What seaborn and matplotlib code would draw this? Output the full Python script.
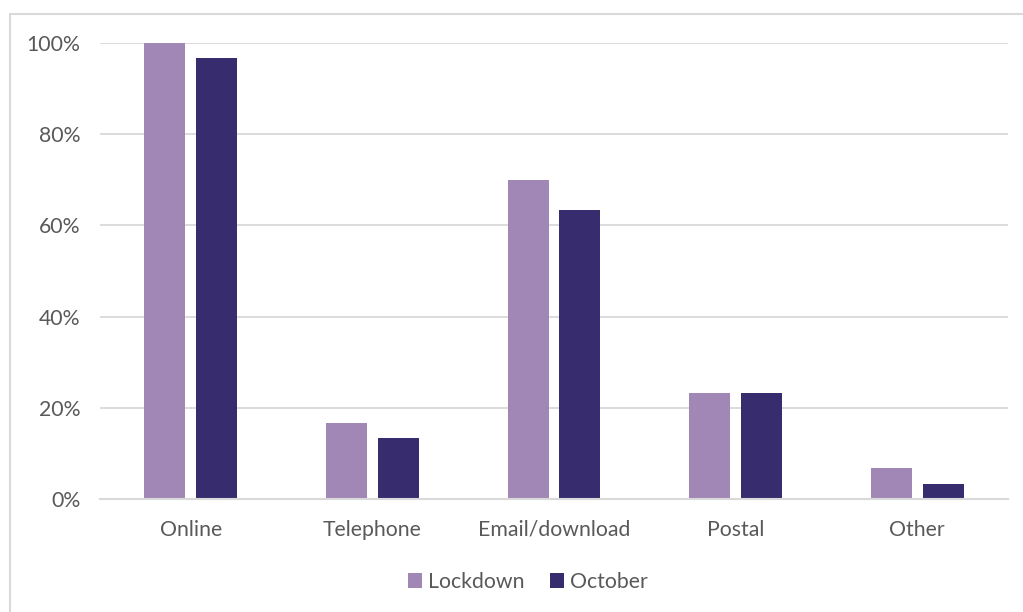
import matplotlib
matplotlib.use("Agg")
import matplotlib.pyplot as plt
import seaborn as sns
import pandas as pd
from matplotlib.patches import Rectangle
from matplotlib.ticker import FuncFormatter

categories = ["Online", "Telephone", "Email/download", "Postal", "Other"]
lockdown = [100.0, 16.7, 70.0, 23.3, 6.7]
october = [96.7, 13.3, 63.3, 23.3, 3.3]
series = ["Lockdown", "October"]
yticks = [0, 20, 40, 60, 80, 100]

df = pd.DataFrame({
    "category": categories * 2,
    "value": lockdown + october,
    "series": [series[0]] * len(categories) + [series[1]] * len(categories),
})

sns.set_theme(style="white")
plt.rcParams["font.family"] = ["Lato", "DejaVu Sans"]

fig = plt.figure(figsize=(10.23, 6.12), dpi=100)
ax = fig.add_axes([100 / 1023, (612 - 499) / 612, 908 / 1023, 456 / 612])

colors = {"Lockdown": "#A087B5", "October": "#372D6E"}
sns.barplot(data=df, x="category", y="value", hue="series", order=categories,
            hue_order=series, palette=colors, width=0.572, gap=0.21,
            ax=ax, legend=True, saturation=1, linewidth=0)

ax.set_ylim(0, 100)
ax.set_xlim(-0.5, len(categories) - 0.5)
ax.set_yticks(yticks)
ax.yaxis.set_major_formatter(FuncFormatter(lambda v, p: f"{int(v)}%"))
ax.set_xlabel("")
ax.set_ylabel("")
ax.grid(axis="y", color="#D9D9D9", linewidth=1.3)
ax.set_axisbelow(True)
for s in ["top", "right", "left"]:
    ax.spines[s].set_visible(False)
ax.spines["bottom"].set_color("#D9D9D9")
ax.spines["bottom"].set_linewidth(1.5)
ax.tick_params(axis="both", length=0, labelsize=15.3, colors="#595959")
ax.tick_params(axis="x", pad=15)
ax.tick_params(axis="y", pad=14)

leg = ax.legend(loc="center", bbox_to_anchor=(528 / 1023, (612 - 582) / 612),
                bbox_transform=fig.transFigure, ncol=2, frameon=False,
                fontsize=15.3, handlelength=0.65, handleheight=0.65,
                handletextpad=0.3, columnspacing=1.2)
for t in leg.get_texts():
    t.set_color("#595959")

fig.patches.append(Rectangle((10 / 1023, -0.05), 1.2, (612 - 14) / 612 + 0.05,
                             transform=fig.transFigure, fill=False,
                             edgecolor="#D9D9D9", linewidth=1.5, zorder=0))

fig.savefig("out.png", dpi=100)
